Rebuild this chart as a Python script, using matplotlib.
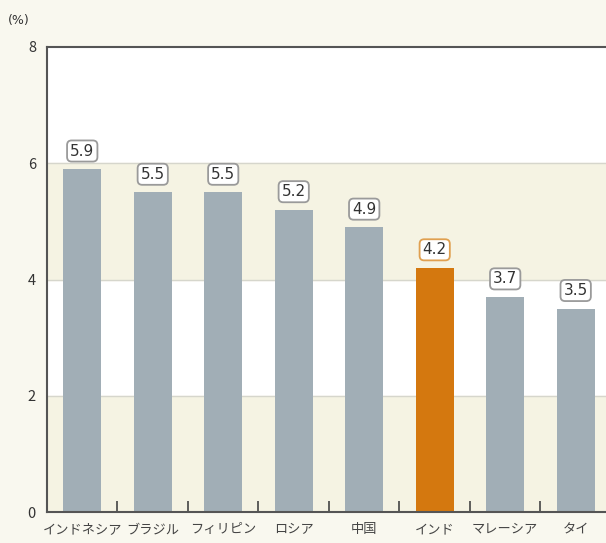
import matplotlib.pyplot as plt
import numpy as np

plt.rcParams['font.family'] = ['Noto Sans CJK JP', 'DejaVu Sans']

countries = ['インドネシア', 'ブラジル', 'フィリピン', 'ロシア', '中国', 'インド', 'マレーシア', 'タイ']
values = [5.9, 5.5, 5.5, 5.2, 4.9, 4.2, 3.7, 3.5]
highlight = 'インド'

bg = '#f9f8ef'
band = '#f5f3e3'
grey_bar = '#a1aeb6'
orange = '#d4780f'

fig = plt.figure(figsize=(6.06, 5.43), dpi=100, facecolor=bg)
ax = fig.add_axes([47/606, 31/543, 1 - 47/606, 465/543])
ax.set_facecolor('white')

# horizontal bands
ax.axhspan(0, 2, color=band, zorder=0)
ax.axhspan(4, 6, color=band, zorder=0)
for yv in [2, 4, 6]:
    ax.axhline(yv, color='#d6d6cc', lw=1, zorder=1)

x = np.arange(len(countries))
colors = [orange if c == highlight else grey_bar for c in countries]
ax.bar(x, values, width=0.54, color=colors, zorder=2)

for xi, v, c in zip(x, values, countries):
    ec = '#e0a050' if c == highlight else '#9a9a9a'
    ax.annotate(f'{v}', (xi, v), xytext=(0, 13), textcoords='offset points',
                ha='center', va='center', fontsize=11, color='#333333',
                family='DejaVu Sans',
                bbox=dict(boxstyle='round,pad=0.2,rounding_size=0.3', fc='white', ec=ec, lw=1.3))

ax.set_xlim(-0.5, 7.43)
ax.set_ylim(0, 8)
ax.set_yticks([0, 2, 4, 6, 8])
ax.tick_params(axis='y', length=0, labelsize=10.5, labelcolor='#333333', pad=8)
ax.set_xticks(x)
ax.set_xticklabels(countries, fontsize=9.5, color='#444444')
ax.tick_params(axis='x', length=0, pad=8)
# small separator ticks between bars
ax.set_xticks(x[:-1] + 0.5, minor=True)
ax.tick_params(axis='x', which='minor', direction='in', length=8, width=1.2, color='#444444')

for s in ['left', 'top', 'bottom']:
    ax.spines[s].set_color('#555555')
    ax.spines[s].set_linewidth(1.5)
ax.spines['right'].set_visible(False)

fig.text(8/606, 1 - 24/543, '(%)', fontsize=9, color='#333333', family='DejaVu Sans')

fig.savefig('out.png', dpi=100, facecolor=bg)
